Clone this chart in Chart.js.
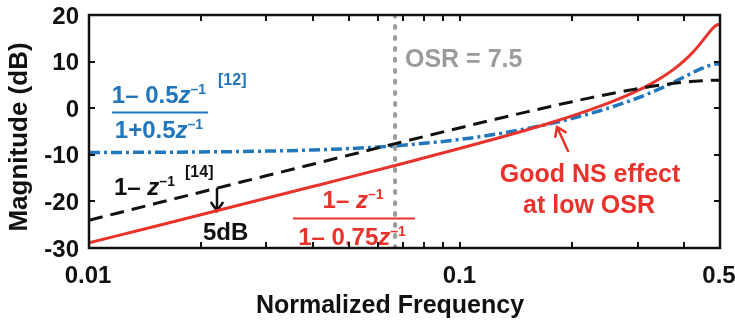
<!DOCTYPE html>
<html>
<head>
<meta charset="utf-8">
<script src="https://cdn.jsdelivr.net/npm/chart.js@4.4.0/dist/chart.umd.min.js"></script>
<style>
html, body { margin: 0; padding: 0; background: #fff; }
</style>
</head>
<body>
<canvas id="magChart" width="735" height="321"></canvas>
<script>
// normalized frequency samples (log axis)
var freqs = [0.01, 0.015, 0.02, 0.03, 0.04, 0.05, 0.07, 0.1, 0.125, 0.15, 0.175, 0.2, 0.225, 0.25,
             0.275, 0.3, 0.325, 0.35, 0.375, 0.4, 0.425, 0.4375, 0.45, 0.4625, 0.475, 0.4875, 0.5];
// magnitude in dB
var magNS = [-28.90, -25.37, -22.87, -19.33, -16.81, -14.85, -11.86, -8.61, -6.51, -4.72, -3.13, -1.66, -0.27, 1.07,
             2.41, 3.77, 5.18, 6.69, 8.33, 10.16, 12.24, 13.38, 14.58, 15.79, 16.91, 17.75, 18.06];
var magDiff = [-24.04, -20.52, -18.02, -14.51, -12.02, -10.09, -7.20, -4.18, -2.32, -0.84, 0.38, 1.40, 2.27, 3.01,
               3.64, 4.18, 4.64, 5.02, 5.33, 5.58, 5.78, 5.85, 5.91, 5.96, 5.99, 6.01, 6.02];
var magLow = [-9.50, -9.46, -9.39, -9.21, -8.97, -8.67, -7.95, -6.69, -5.57, -4.43, -3.31, -2.19, -1.09, 0.00,
              1.09, 2.19, 3.31, 4.43, 5.57, 6.69, 7.76, 8.24, 8.67, 9.03, 9.31, 9.48, 9.54];
var osrFreq = 0.0667;

var xTickValues = [0.01, 0.1, 0.5];
var xTickLabels = ['0.01', '0.1', '0.5'];
var xMinorTicks = [0.02, 0.03, 0.04, 0.05, 0.06, 0.07, 0.08, 0.09, 0.2, 0.3, 0.4];
var yTickValues = [-30, -20, -10, 0, 10, 20];
var yTickLabels = ['-30', '-20', '-10', '0', '10', '20'];

var RED = '#e8322b';
var BLUE = '#2176bc';
var GRAY = '#9b9b9b';
var BLACK = '#111111';
var FONT = '"Liberation Sans", Arial, sans-serif';

function toPoints(xs, ys) {
    return xs.map(function(x, i) { return { x: x, y: ys[i] }; });
}

// draws a run of text pieces, each with its own font and vertical shift
function drawRich(ctx, parts, x, y, align, color) {
    var total = 0;
    parts.forEach(function(p) {
        ctx.font = p.f;
        p.w = ctx.measureText(p.t).width;
        total += p.w;
    });
    var cx = align === 'center' ? x - total / 2 : x;
    ctx.fillStyle = color;
    ctx.textAlign = 'left';
    ctx.textBaseline = 'alphabetic';
    parts.forEach(function(p) {
        ctx.font = p.f;
        ctx.fillText(p.t, cx, y - (p.dy || 0));
        cx += p.w;
    });
}

function arrow(ctx, x1, y1, x2, y2, color) {
    var ang = Math.atan2(y2 - y1, x2 - x1);
    var head = 10;
    ctx.strokeStyle = color;
    ctx.lineWidth = 2.5;
    ctx.lineCap = 'round';
    ctx.beginPath();
    ctx.moveTo(x1, y1);
    ctx.lineTo(x2, y2);
    ctx.moveTo(x2 - head * Math.cos(ang - 0.6), y2 - head * Math.sin(ang - 0.6));
    ctx.lineTo(x2, y2);
    ctx.lineTo(x2 - head * Math.cos(ang + 0.6), y2 - head * Math.sin(ang + 0.6));
    ctx.stroke();
}

var big = 'bold 24px ' + FONT;
var bigIt = 'bold italic 24px ' + FONT;
var sup = 'bold 14px ' + FONT;

var annotations = {
    id: 'annotations',
    beforeDatasetsDraw: function(chart) {
        var ctx = chart.ctx;
        ctx.save();

        // blue transfer function
        drawRich(ctx, [{ t: '1', f: big }, { t: '\u2013 ', f: big }, { t: '0.5', f: big }, { t: 'z', f: bigIt },
                       { t: '\u20131', f: sup, dy: 9 }], 159, 103, 'center', BLUE);
        drawRich(ctx, [{ t: '1', f: big }, { t: '+', f: big }, { t: '0.5', f: big }, { t: 'z', f: bigIt },
                       { t: '\u20131', f: sup, dy: 9 }], 159, 138, 'center', BLUE);
        ctx.fillStyle = BLUE;
        ctx.fillRect(112, 111.5, 96, 2);
        drawRich(ctx, [{ t: '[12]', f: 'bold 16px ' + FONT }], 218, 85, 'left', BLUE);

        // black transfer function
        drawRich(ctx, [{ t: '1', f: big }, { t: '\u2013 ', f: big }, { t: 'z', f: bigIt },
                       { t: '\u20131', f: sup, dy: 9 }], 114, 195, 'left', BLACK);
        drawRich(ctx, [{ t: '[14]', f: 'bold 16px ' + FONT }], 185, 177, 'left', BLACK);
        arrow(ctx, 217, 189, 217, 211, BLACK);
        drawRich(ctx, [{ t: '5dB', f: 'bold 24px ' + FONT }], 203, 240, 'left', BLACK);

        // red transfer function
        drawRich(ctx, [{ t: '1', f: big }, { t: '\u2013 ', f: big }, { t: 'z', f: bigIt },
                       { t: '\u20131', f: sup, dy: 9 }], 353, 208, 'center', RED);
        drawRich(ctx, [{ t: '1', f: big }, { t: '\u2013 ', f: big }, { t: '0.75', f: big }, { t: 'z', f: bigIt },
                       { t: '\u20131', f: sup, dy: 9 }], 352, 245, 'center', RED);
        ctx.fillStyle = RED;
        ctx.fillRect(293, 217.5, 122, 2);

        // OSR label and note
        drawRich(ctx, [{ t: 'OSR = 7.5', f: 'bold 25px ' + FONT }], 405, 67, 'left', GRAY);
        drawRich(ctx, [{ t: 'Good NS effect', f: 'bold 25px ' + FONT }], 590, 182, 'center', RED);
        drawRich(ctx, [{ t: 'at low OSR', f: 'bold 25px ' + FONT }], 589, 213, 'center', RED);
        arrow(ctx, 568, 151, 557, 127, RED);

        ctx.restore();
    },
    afterDraw: function(chart) {
        var ctx = chart.ctx;
        var a = chart.chartArea;
        var xs = chart.scales.x;
        var ys = chart.scales.y;
        ctx.save();

        // inward ticks on all four sides
        ctx.strokeStyle = BLACK;
        ctx.lineWidth = 2;
        ctx.beginPath();
        xTickValues.concat(xMinorTicks).forEach(function(v) {
            var px = Math.round(xs.getPixelForValue(v));
            ctx.moveTo(px, a.bottom); ctx.lineTo(px, a.bottom - 6);
            ctx.moveTo(px, a.top); ctx.lineTo(px, a.top + 6);
        });
        yTickValues.forEach(function(v) {
            var py = Math.round(ys.getPixelForValue(v));
            ctx.moveTo(a.left, py); ctx.lineTo(a.left + 6, py);
            ctx.moveTo(a.right, py); ctx.lineTo(a.right - 6, py);
        });
        ctx.stroke();

        // box
        ctx.lineWidth = 2.5;
        ctx.strokeRect(a.left, a.top, a.right - a.left, a.bottom - a.top);

        // tick labels
        ctx.fillStyle = BLACK;
        ctx.font = 'bold 24px ' + FONT;
        ctx.textAlign = 'right';
        ctx.textBaseline = 'middle';
        yTickValues.forEach(function(v, i) {
            ctx.fillText(yTickLabels[i], a.left - 10, ys.getPixelForValue(v) + 2);
        });
        ctx.textAlign = 'center';
        ctx.textBaseline = 'alphabetic';
        xTickValues.forEach(function(v, i) {
            ctx.fillText(xTickLabels[i], xs.getPixelForValue(v) - 1, a.bottom + 35);
        });

        // axis titles
        ctx.font = 'bold 25px ' + FONT;
        ctx.fillText('Normalized Frequency', 390, 313);
        ctx.translate(27, 137);
        ctx.rotate(-Math.PI / 2);
        ctx.font = 'bold 26px ' + FONT;
        ctx.fillText('Magnitude (dB)', 0, 0);

        ctx.restore();
    }
};

new Chart(document.getElementById('magChart'), {
    type: 'line',
    data: {
        datasets: [{
            data: toPoints(freqs, magDiff),
            borderColor: BLACK,
            borderWidth: 3,
            borderDash: [14, 8]
        }, {
            data: toPoints(freqs, magNS),
            borderColor: RED,
            borderWidth: 3
        }, {
            data: toPoints(freqs, magLow),
            borderColor: BLUE,
            borderWidth: 3.5,
            borderDash: [11, 4, 3, 4]
        }, {
            data: [{ x: osrFreq, y: -30 }, { x: osrFreq, y: 20 }],
            borderColor: GRAY,
            borderWidth: 4,
            borderCapStyle: 'round',
            borderDash: [2, 9]
        }]
    },
    options: {
        responsive: false,
        animation: false,
        devicePixelRatio: 1,
        layout: { padding: { left: 89, top: 15, right: 15, bottom: 73 } },
        elements: {
            point: { radius: 0 },
            line: { cubicInterpolationMode: 'monotone', fill: false }
        },
        plugins: { legend: { display: false }, tooltip: { enabled: false } },
        scales: {
            x: { type: 'logarithmic', min: 0.01, max: 0.5, display: false },
            y: { type: 'linear', min: -30, max: 20, display: false }
        }
    },
    plugins: [annotations]
});
</script>
</body>
</html>
